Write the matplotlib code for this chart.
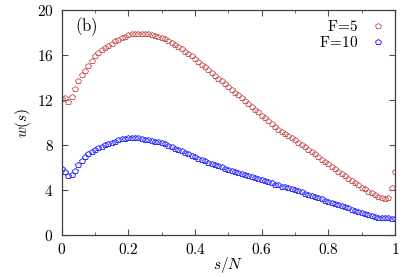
import numpy as np
import matplotlib
matplotlib.use("Agg")
import matplotlib.pyplot as plt

plt.rcParams['mathtext.fontset'] = 'cm'
plt.rcParams['font.family'] = ['DejaVu Serif']

# s/N grid (101 points)
s = np.linspace(0, 1, 101)

w_f5 = [12.1, 12.15, 11.85, 12.3, 13.0, 13.7, 14.2, 14.6, 15.0, 15.5,
        15.9, 16.2, 16.4, 16.6, 16.8, 17.0, 17.2, 17.35, 17.5, 17.6,
        17.75, 17.85, 17.9, 17.9, 17.9, 17.9, 17.85, 17.8, 17.7, 17.6,
        17.5, 17.4, 17.25, 17.1, 16.9, 16.7, 16.5, 16.3, 16.1, 15.9,
        15.65, 15.4, 15.15, 14.9, 14.65, 14.4, 14.15, 13.9, 13.65, 13.4,
        13.15, 12.9, 12.65, 12.4, 12.15, 11.9, 11.65, 11.4, 11.15, 10.9,
        10.6, 10.35, 10.1, 9.85, 9.6, 9.35, 9.15, 8.95, 8.75, 8.6,
        8.4, 8.2, 8.0, 7.8, 7.55, 7.35, 7.15, 6.9, 6.7, 6.5,
        6.3, 6.05, 5.85, 5.6, 5.4, 5.2, 5.0, 4.8, 4.6, 4.4,
        4.2, 4.05, 3.85, 3.7, 3.55, 3.4, 3.3, 3.2, 3.25, 4.2, 5.55]

w_f10 = [5.9, 5.6, 5.2, 5.3, 5.7, 6.2, 6.55, 6.95, 7.2, 7.4,
         7.55, 7.7, 7.85, 7.95, 8.1, 8.2, 8.3, 8.4, 8.5, 8.55,
         8.6, 8.62, 8.62, 8.58, 8.53, 8.47, 8.4, 8.35, 8.3, 8.22,
         8.15, 8.05, 7.92, 7.8, 7.68, 7.55, 7.42, 7.3, 7.17, 7.03,
         6.9, 6.77, 6.65, 6.53, 6.4, 6.3, 6.2, 6.1, 6.0, 5.9,
         5.8, 5.7, 5.6, 5.5, 5.4, 5.3, 5.2, 5.12, 5.05, 4.97,
         4.88, 4.78, 4.68, 4.58, 4.48, 4.4, 4.3, 4.22, 4.15, 4.05,
         3.95, 3.87, 3.78, 3.68, 3.58, 3.48, 3.37, 3.25, 3.15, 3.05,
         2.95, 2.85, 2.75, 2.65, 2.55, 2.45, 2.35, 2.25, 2.15, 2.05,
         1.95, 1.85, 1.75, 1.65, 1.57, 1.5, 1.47, 1.46, 1.46, 1.45, 1.43]

xticks = [0, 0.2, 0.4, 0.6, 0.8, 1.0]
xticklabels = ['$0$', '$0.2$', '$0.4$', '$0.6$', '$0.8$', '$1$']
yticks = [0, 4, 8, 12, 16, 20]
yticklabels = ['$0$', '$4$', '$8$', '$12$', '$16$', '$20$']

fig = plt.figure(figsize=(4.15, 2.77), dpi=100)
ax = fig.add_axes([0.149, 0.152, 0.803, 0.812])

ax.plot(s, w_f5, linestyle='none', marker='p', ms=4.4, mfc='none',
        mec='#c4504f', mew=0.6, label=r'$\mathrm{F\!=\!5}$')
ax.plot(s, w_f10, linestyle='none', marker='p', ms=4.4, mfc='none',
        mec='#3030ff', mew=0.7, label=r'$\mathrm{F\!=\!10}$')

ax.set_xlim(0, 1)
ax.set_ylim(0, 20)
ax.set_xticks(xticks)
ax.set_xticklabels(xticklabels)
ax.set_xticks([0.1, 0.3, 0.5, 0.7, 0.9], minor=True)
ax.set_yticks(yticks)
ax.set_yticklabels(yticklabels)
ax.tick_params(which='both', direction='in', top=True, right=True,
               labelsize=11, color='#505050')
ax.tick_params(axis='x', pad=5)
ax.tick_params(axis='y', pad=6)
ax.tick_params(which='major', length=4)
ax.tick_params(which='minor', length=2.5)
for sp in ax.spines.values():
    sp.set_color('#404040')
    sp.set_linewidth(0.9)

ax.set_xlabel('$s/N$', fontsize=11, labelpad=-1)
ax.set_ylabel('$w(s)$', fontsize=11, labelpad=3)
ax.text(0.04, 0.975, r'$\mathrm{(b)}$', transform=ax.transAxes,
        fontsize=12, va='top', ha='left')

ax.legend(loc='upper right', frameon=False, markerfirst=False,
          fontsize=11, handlelength=1.0, handletextpad=0.8,
          borderaxespad=0.2, labelspacing=0.05)

fig.savefig('out.png', dpi=100)
